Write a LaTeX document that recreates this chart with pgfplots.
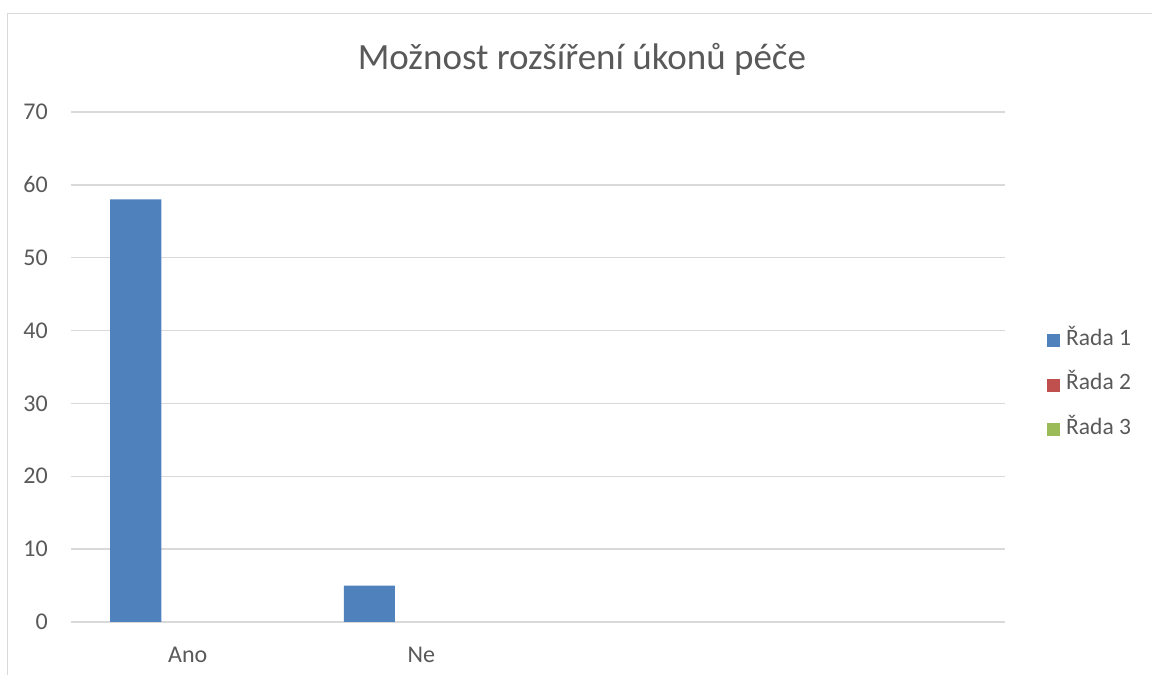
\documentclass[border=0pt]{standalone}
\usepackage{pgfplots}
\pgfplotsset{compat=1.18}
\usepackage{fontspec}
\setmainfont{Carlito}
\definecolor{s1}{HTML}{4F81BD}
\definecolor{s2}{HTML}{C0504D}
\definecolor{s3}{HTML}{9BBB59}
\definecolor{gridc}{HTML}{D9D9D9}
\definecolor{txt}{HTML}{595959}
\pgfplotsset{sq legend/.style={legend image code/.code={\path[draw=none,fill=none] (0pt,-15pt) rectangle (13pt,15pt);\fill[##1] (0pt,-10.5pt) rectangle (13pt,2.5pt);}}}
\begin{document}
\begin{tikzpicture}[x=1pt,y=1pt]
\path[use as bounding box] (0,0) rectangle (1152,675);
\clip (0,0) rectangle (1152,675);
\draw[gridc, line width=1.5pt] (7.5,-5) -- (7.5,661.5) -- (1160,661.5);
\node[anchor=base, text=txt, inner sep=0pt, font=\fontsize{37}{44}\selectfont] at (582,605.5) {Možnost rozšíření úkonů péče};
\begin{axis}[
  at={(71pt,53pt)}, anchor=south west,
  scale only axis, width=934pt, height=510pt,
  xmin=-0.5, xmax=3.5, ymin=0, ymax=70,
  ytick={0,10,...,70},
  xtick={0,1}, xticklabels={Ano,Ne},
  axis line style={draw=none},
  major tick length=0pt,
  ymajorgrids, grid style={gridc, line width=1.3pt},
  tick label style={text=txt, font=\fontsize{24}{29}\selectfont, inner sep=0pt},
  yticklabel style={anchor=east, xshift=-23pt},
  xticklabel style={anchor=north, yshift=-25pt},
  /pgf/number format/assume math mode=true,
  legend style={at={(axis description cs:1.045,0.4725)}, anchor=west, draw=none, fill=none,
    inner sep=0pt, row sep=14.5pt, column sep=6pt, text=txt,
    font=\fontsize{23.5}{28}\selectfont, nodes={inner sep=0pt}},
  legend cell align=left,
]
\addplot[ybar, bar width=51pt, bar shift=-52pt, fill=s1, draw=none, sq legend]
  coordinates {(0,58) (1,5)};
\addlegendentry{Řada 1}
\addlegendimage{fill=s2, draw=none, sq legend}
\addlegendentry{Řada 2}
\addlegendimage{fill=s3, draw=none, sq legend}
\addlegendentry{Řada 3}
\end{axis}
\end{tikzpicture}
\end{document}
